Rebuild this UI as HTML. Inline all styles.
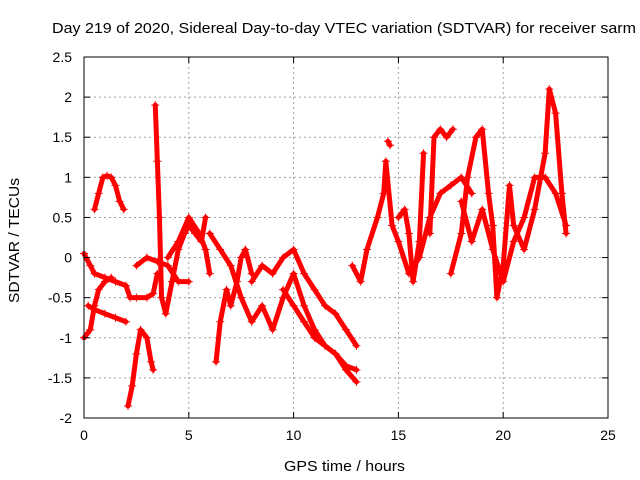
<!DOCTYPE html>
<html><head><meta charset="utf-8"><style>
body{margin:0;background:#fff}
svg{display:block;font-family:"Liberation Sans",sans-serif}
</style></head><body>
<svg id="chart" width="640" height="480" viewBox="0 0 640 480">
<rect width="640" height="480" fill="#fff"/>
<text x="52" y="33" font-size="15" textLength="584" lengthAdjust="spacingAndGlyphs">Day 219 of 2020, Sidereal Day-to-day VTEC variation (SDTVAR) for receiver sarm</text>
<g id="grid"></g>
<g id="series"></g>
<rect x="84" y="57" width="524" height="361" fill="none" stroke="#000" stroke-width="1"/>
<g id="ticks"></g>
<text transform="translate(19,303) rotate(-90)" font-size="15" textLength="125" lengthAdjust="spacingAndGlyphs">SDTVAR / TECUs</text>
<text x="284" y="471" font-size="15" textLength="121" lengthAdjust="spacingAndGlyphs">GPS time / hours</text>
</svg>
<script>
const xTicks=[0,5,10,15,20,25];
const yTicks=[-2,-1.5,-1,-0.5,0,0.5,1,1.5,2,2.5];
const yTickLabels=["-2","-1.5","-1","-0.5","0","0.5","1","1.5","2","2.5"];
const sA=[[0,0.05],[0.3,-0.1],[0.5,-0.2],[1,-0.25],[1.5,-0.3],[2,-0.35],[2.2,-0.5],[2.5,-0.5],[3,-0.5],[3.3,-0.45],[3.5,-0.2]];
const sB=[[0.5,0.6],[0.7,0.8],[0.9,1.0],[1.1,1.02],[1.3,1.0],[1.5,0.9],[1.7,0.7],[1.9,0.6]];
const sC=[[0,-1.0],[0.3,-0.9],[0.5,-0.6],[0.7,-0.4],[1,-0.3],[1.3,-0.25]];
const sC2=[[0.2,-0.6],[0.5,-0.65],[1,-0.7],[1.5,-0.75],[2,-0.8]];
const sD=[[2.1,-1.85],[2.3,-1.6],[2.5,-1.2],[2.7,-0.9],[3,-1.0],[3.2,-1.3],[3.3,-1.4]];
const sE=[[3.4,1.9],[3.5,1.2],[3.6,0.5],[3.7,-0.5],[3.9,-0.7],[4.2,-0.3],[4.5,0.1],[4.8,0.3],[5,0.4],[5.3,0.3],[5.6,0.2],[5.8,0.5]];
const sF=[[2.5,-0.1],[3,0],[3.5,-0.05],[4,-0.1],[4.5,-0.3],[5,-0.3]];
const sG=[[4,0],[4.5,0.2],[5,0.5],[5.5,0.3],[5.8,0.1],[6,-0.2]];
const sH=[[6.3,-1.3],[6.5,-0.8],[6.8,-0.4],[7,-0.6],[7.3,-0.3],[7.5,0.0],[7.7,0.1],[8,-0.2]];
const sI=[[6,0.3],[6.5,0.1],[7,-0.1],[7.5,-0.5],[8,-0.8],[8.5,-0.6],[9,-0.9],[9.5,-0.5],[10,-0.2],[10.5,-0.6],[11,-0.9],[11.5,-1.1],[12,-1.2],[12.5,-1.4],[13,-1.55]];
const sJ=[[8,-0.3],[8.5,-0.1],[9,-0.2],[9.5,0.0],[10,0.1],[10.5,-0.2],[11,-0.4],[11.5,-0.6],[12,-0.7],[12.5,-0.9],[13,-1.1]];
const sK=[[9.5,-0.4],[10,-0.6],[10.5,-0.8],[11,-1.0],[11.5,-1.1],[12,-1.2],[12.5,-1.35],[13,-1.4]];
const sL=[[12.8,-0.1],[13.2,-0.3],[13.5,0.1],[14,0.5],[14.3,0.8],[14.4,1.2],[14.7,0.4],[15,0.2],[15.5,-0.2],[16,0],[16.5,0.5],[17,0.8],[17.5,0.9],[18,1.0],[18.5,0.8]];
const sM=[[14.5,1.45],[14.6,1.4]];
const sM2=[[15,0.5],[15.3,0.6],[15.5,0.3],[15.7,-0.3],[16,0.2],[16.2,1.3]];
const sN=[[16.5,0.3],[16.7,1.5],[17,1.6],[17.3,1.5],[17.6,1.6]];
const sO=[[17.5,-0.2],[18,0.3],[18.3,1.0],[18.7,1.5],[19,1.6],[19.3,0.8],[19.5,0.4],[19.7,-0.5],[20,-0.1],[20.3,0.9],[20.5,0.4],[21,0.1],[21.5,0.6],[22,1.3],[22.2,2.1],[22.5,1.8],[22.8,0.8],[23,0.3]];
const sP=[[18,0.7],[18.5,0.2],[19,0.6],[19.5,0.1],[20,-0.3],[20.5,0.2],[21,0.5],[21.5,1.0],[22,1.0],[22.5,0.8],[23,0.4]];
const allSeries=[sA,sB,sC,sC2,sD,sE,sF,sG,sH,sI,sJ,sK,sL,sM,sM2,sN,sO,sP];

const X0=84,X1=608,Y0=418,Y1=57;
function xs(v){return X0+(v-0)/(25-0)*(X1-X0);}
function ys(v){return Y0-(v+2)/(4.5)*(Y0-Y1);}
const NS="http://www.w3.org/2000/svg";
function mk(t,a,p){const e=document.createElementNS(NS,t);for(const k in a)e.setAttribute(k,a[k]);p.appendChild(e);return e;}
const grid=document.getElementById('grid'),ticks=document.getElementById('ticks'),ser=document.getElementById('series');
xTicks.forEach(v=>{
  const x=xs(v);
  if(v>0&&v<25){const g=mk('line',{x1:x,x2:x,y1:Y1,y2:Y0,stroke:'#a0a0a0','stroke-dasharray':'2,3'},grid);
  
  }
  mk('line',{x1:x,x2:x,y1:Y0,y2:Y0-6,stroke:'#000'},ticks);
  mk('line',{x1:x,x2:x,y1:Y1,y2:Y1+6,stroke:'#000'},ticks);
  const t=mk('text',{x:x,y:Y0+22,'font-size':14,'text-anchor':'middle'},ticks);t.textContent=v;
  
  
});
yTicks.forEach((v,i)=>{
  const y=ys(v);
  if(i>0&&i<yTicks.length-1){const g=mk('line',{x1:X0,x2:X1,y1:y,y2:y,stroke:'#a0a0a0','stroke-dasharray':'2,3'},grid);
  
  }
  mk('line',{x1:X0,x2:X0+6,y1:y,y2:y,stroke:'#000'},ticks);
  mk('line',{x1:X1,x2:X1-6,y1:y,y2:y,stroke:'#000'},ticks);
  const t=mk('text',{x:X0-12,y:y+5,'font-size':14,'text-anchor':'end'},ticks);t.textContent=yTickLabels[i];
  
  
});
allSeries.forEach((s,si)=>{
  const g=mk('g',{},ser);
  
  
  const pts=s.map(p=>xs(p[0])+','+ys(p[1])).join(' ');
  mk('polyline',{points:pts,fill:'none',stroke:'#000','stroke-width':1},g);
  mk('polyline',{points:pts,fill:'none',stroke:'#ff0000','stroke-width':5,'stroke-linejoin':'round','stroke-linecap':'round'},g);
  s.forEach(p=>{
    const x=xs(p[0]),y=ys(p[1]);
    const m=mk('path',{d:`M${x-4},${y}H${x+4}M${x},${y-4}V${y+4}`,stroke:'#ff0000','stroke-width':1},g);
    
    
  });
});
</script>
</body></html>
